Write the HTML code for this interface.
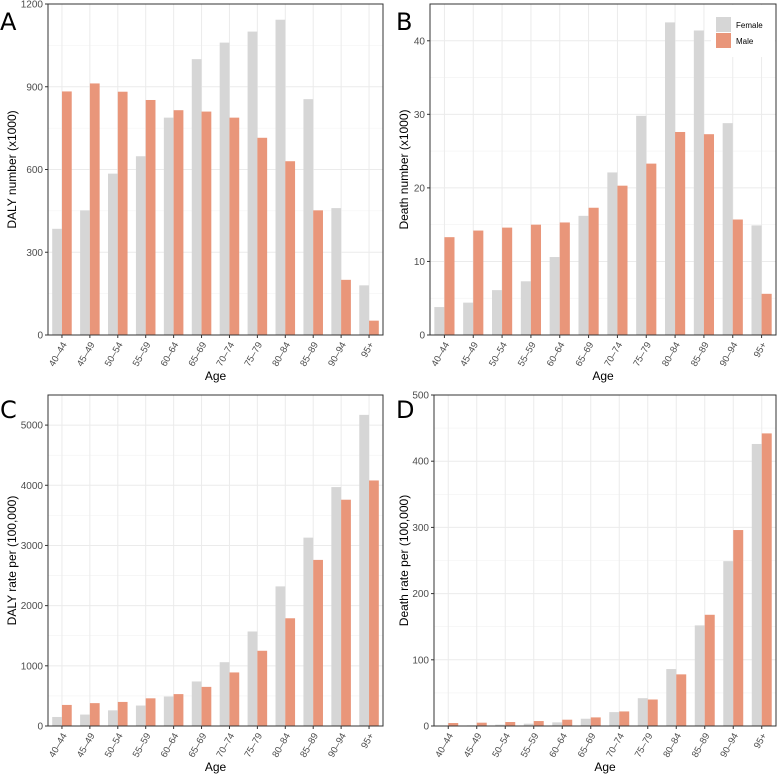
<!DOCTYPE html>
<html><head><meta charset="utf-8"><style>
body{margin:0;background:#fff;font-family:"Liberation Sans",sans-serif}
svg{display:block}
</style></head><body>
<svg id="c" width="777" height="775"></svg>
<script>
const categories=["40–44","45–49","50–54","55–59","60–64","65–69","70–74","75–79","80–84","85–89","90–94","95+"];
const dalyNumFemale=[385,452,585,648,788,1000,1060,1100,1143,855,460,180];
const dalyNumMale=[883,912,882,852,815,810,788,715,630,452,200,52];
const deathNumFemale=[3.8,4.4,6.1,7.3,10.6,16.2,22.1,29.8,42.5,41.4,28.8,14.9];
const deathNumMale=[13.3,14.2,14.6,15.0,15.3,17.3,20.3,23.3,27.6,27.3,15.7,5.6];
const dalyRateFemale=[150,190,260,340,490,740,1060,1570,2320,3130,3970,5170];
const dalyRateMale=[350,380,400,460,530,650,890,1250,1790,2760,3760,4080];
const deathRateFemale=[0.5,1,2,3.5,5.5,11,21,42,86,152,249,426];
const deathRateMale=[4.5,5,6,7.5,9.5,13,22,40,78,168,296,442];
const ticksA=[0,300,600,900,1200],ticksB=[0,10,20,30,40],ticksC=[0,1000,2000,3000,4000,5000],ticksD=[0,100,200,300,400,500];
const NS="http://www.w3.org/2000/svg";
const svg=document.getElementById('c');
function mk(t,a,p){const e=document.createElementNS(NS,t);for(const k in a)e.setAttribute(k,a[k]);(p||svg).appendChild(e);return e;}
function panel(o){
  const g=mk('g',{});
  
  
  const {x0,x1,y0,y1,max,ticks}=o;
  const ys=v=>y1-(v/max)*(y1-y0);
  const step=(x1-x0)/categories.length;
  const xc=i=>x0+step*(i+0.5);
  for(let i=0;i<ticks.length;i++){const m=ticks[i]+(ticks[1]-ticks[0])/2;if(m<max){const l=mk('line',{x1:x0,x2:x1,y1:ys(m),y2:ys(m),stroke:'#f2f2f2','stroke-width':0.6},g);}}
  ticks.forEach(t=>{const l=mk('line',{x1:x0,x2:x1,y1:ys(t),y2:ys(t),stroke:'#ebebeb','stroke-width':1},g);});
  categories.forEach((c,i)=>{const l=mk('line',{x1:xc(i),x2:xc(i),y1:y0,y2:y1,stroke:'#ebebeb','stroke-width':1},g);});
  const bw=step*0.35;
  categories.forEach((c,i)=>{
    const f=mk('rect',{x:xc(i)-bw,y:ys(o.f[i]),width:bw,height:y1-ys(o.f[i]),fill:'#d6d6d6'},g);
    
    
    const m=mk('rect',{x:xc(i),y:ys(o.m[i]),width:bw,height:y1-ys(o.m[i]),fill:'#e9967a'},g);
    
    
    const tk=mk('line',{x1:xc(i),x2:xc(i),y1:y1,y2:y1+3,stroke:'#333'},g);
    
    const tx=mk('text',{x:xc(i)+3,y:y1+8,'font-size':9.5,fill:'#4d4d4d','text-anchor':'end',transform:`rotate(-60 ${xc(i)+3} ${y1+8})`,'dominant-baseline':'middle'},g);
    tx.textContent=c;
    
  });
  ticks.forEach(t=>{
    const tk=mk('line',{x1:x0-3,x2:x0,y1:ys(t),y2:ys(t),stroke:'#333'},g);
    
    const tx=mk('text',{x:x0-5,y:ys(t)+3.5,'font-size':10,fill:'#4d4d4d','text-anchor':'end'},g);
    tx.textContent=t;
    
  });
  if(o.legendMask){const r=mk('rect',{x:711,y:5,width:64,height:52,fill:'#fff'},g);}
  const fr=mk('rect',{x:x0,y:y0,width:x1-x0,height:y1-y0,fill:'none',stroke:'#333','stroke-width':1},g);
  
  const xt=mk('text',{x:(x0+x1)/2,y:y1+45,'font-size':12,fill:'#000','text-anchor':'middle'},g);
  xt.textContent='Age';
  
  const yx=o.ytx,yy=(y0+y1)/2;
  const yt=mk('text',{x:yx,y:yy,'font-size':12,fill:'#000','text-anchor':'middle',transform:`rotate(-90 ${yx} ${yy})`},g);
  yt.textContent=o.ytitle;
  
  const lt=mk('text',{x:o.lx,y:o.ly,'font-size':24,fill:'#000','font-family':'DejaVu Sans, sans-serif'},g);
  lt.textContent=o.letter;
  
}
panel({name:'panel-a-daly-number',x0:48,x1:383,y0:4,y1:335,max:1200,ticks:ticksA,f:dalyNumFemale,m:dalyNumMale,ytitle:'DALY number (x1000)',ytx:16,letter:'A',lx:0,ly:30});
panel({name:'panel-b-death-number',x0:430,x1:776,y0:4,y1:335,max:45,ticks:ticksB,f:deathNumFemale,m:deathNumMale,ytitle:'Death number (x1000)',ytx:408,letter:'B',lx:396,ly:30,legendMask:true});
panel({name:'panel-c-daly-rate',x0:48,x1:383,y0:395,y1:726,max:5500,ticks:ticksC,f:dalyRateFemale,m:dalyRateMale,ytitle:'DALY rate per (100,000)',ytx:16,letter:'C',lx:0,ly:418});
panel({name:'panel-d-death-rate',x0:434,x1:776,y0:395,y1:726,max:500,ticks:ticksD,f:deathRateFemale,m:deathRateMale,ytitle:'Death rate per (100,000)',ytx:408,letter:'D',lx:396,ly:418});
const lg=mk('g',{});


const k1=mk('rect',{x:716,y:17,width:15,height:15,fill:'#d6d6d6'},lg);

const k2=mk('rect',{x:716,y:33,width:15,height:15,fill:'#e9967a'},lg);

const t1=mk('text',{x:736,y:28,'font-size':8,fill:'#000'},lg);t1.textContent='Female';

const t2=mk('text',{x:736,y:44,'font-size':8,fill:'#000'},lg);t2.textContent='Male';

</script>
</body></html>
